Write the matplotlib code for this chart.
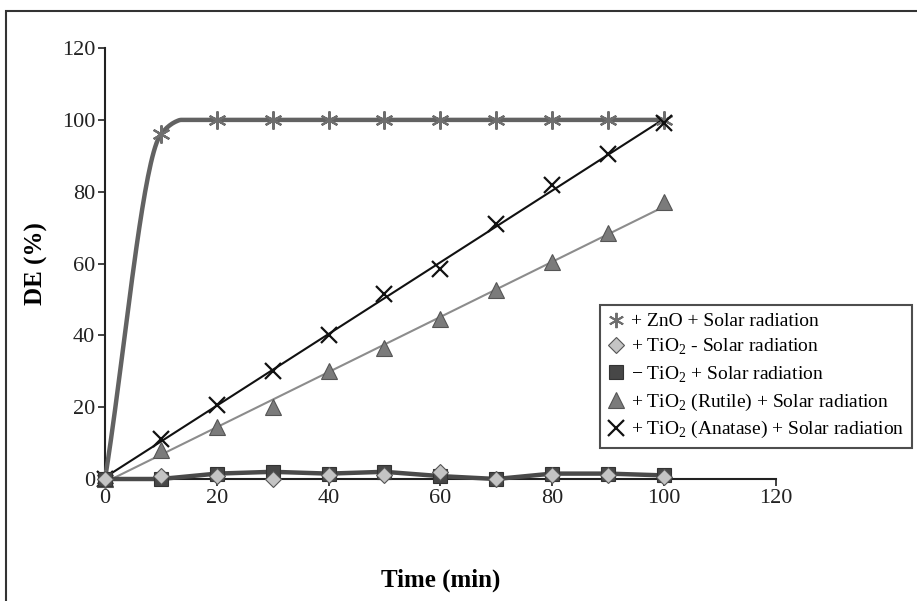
import numpy as np
import matplotlib
matplotlib.use("Agg")
import matplotlib.pyplot as plt
from matplotlib.lines import Line2D
from matplotlib.patches import Rectangle

plt.rcParams['font.family'] = ['Liberation Serif', 'DejaVu Serif']
plt.rcParams['mathtext.fontset'] = 'custom'
plt.rcParams['mathtext.rm'] = 'Liberation Serif'

# data
time = [0, 10, 20, 30, 40, 50, 60, 70, 80, 90, 100]
zno_solar = [0, 96, 100, 100, 100, 100, 100, 100, 100, 100, 100]
tio2_no_solar = [0, 0.8, 0.8, 0, 1.2, 1.0, 2.0, 0, 1.2, 1.2, 0.5]
no_tio2_solar = [0, 0, 1.5, 2.0, 1.5, 2.0, 0.8, 0, 1.5, 1.5, 1.0]
rutile_solar = [0, 8, 14.5, 20, 30, 36.5, 44.5, 52.5, 60.5, 68.5, 77]
anatase_solar = [0, 11, 20.5, 30, 40, 51.5, 58.5, 71, 82, 90.5, 99]

labels = [
    r'+ ZnO + Solar radiation',
    r'+ TiO$_2$ - Solar radiation',
    r'$-$ TiO$_2$ + Solar radiation',
    r'+ TiO$_2$ (Rutile) + Solar radiation',
    r'+ TiO$_2$ (Anatase) + Solar radiation',
]


def smooth(x, y, tension=0.4, n=40):
    # cardinal spline through the points, each piece kept inside its end values
    x = np.asarray(x, float)
    y = np.asarray(y, float)
    m = np.zeros_like(y)
    m[0] = (y[1] - y[0]) / (x[1] - x[0])
    m[-1] = (y[-1] - y[-2]) / (x[-1] - x[-2])
    m[1:-1] = tension * (y[2:] - y[:-2]) / (x[2:] - x[:-2])
    xs_all, ys_all = [], []
    for i in range(len(x) - 1):
        h = x[i + 1] - x[i]
        t = np.linspace(0, 1, n)
        h00 = 2 * t**3 - 3 * t**2 + 1
        h10 = t**3 - 2 * t**2 + t
        h01 = -2 * t**3 + 3 * t**2
        h11 = t**3 - t**2
        ys = h00 * y[i] + h10 * h * m[i] + h01 * y[i + 1] + h11 * h * m[i + 1]
        ys = np.clip(ys, min(y[i], y[i + 1]), max(y[i], y[i + 1]))
        xs_all.append(x[i] + t * h)
        ys_all.append(ys)
    return np.concatenate(xs_all), np.concatenate(ys_all)


fig = plt.figure(figsize=(9.17, 6.01), dpi=100)
ax = fig.add_axes([0.1145, 0.203, 0.7315, 0.717])

asterisk = (6, 2, 0)

# ZnO - smoothed thick gray line
xs, ys = smooth(time, zno_solar)
ax.plot(xs, ys, color='#626262', lw=3.2, zorder=3, solid_capstyle='round')
ax.plot(time, zno_solar, ls='none', marker=asterisk, ms=13, mew=1.6,
        color='#6e6e6e', zorder=4)

# TiO2 (Anatase) - black trend line
p = np.polyfit(time, anatase_solar, 1)
tt = np.array([time[0], time[-1]])
ax.plot(tt, np.polyval(p, tt), color='#111111', lw=1.5, zorder=3)
ax.plot(time, anatase_solar, ls='none', marker='x', ms=12, mew=1.6,
        color='#111111', zorder=4)

# TiO2 (Rutile) - gray trend line
p = np.polyfit(time, rutile_solar, 1)
ax.plot(tt, np.polyval(p, tt), color='#8c8c8c', lw=1.5, zorder=3)
ax.plot(time, rutile_solar, ls='none', marker='^', ms=11, mfc='#7b7b7b',
        mec='#555555', mew=0.8, zorder=4)

# -TiO2 + solar: thick dark line with squares
ax.plot(time, no_tio2_solar, color='#4a4a4a', lw=3.2, marker='s', ms=10,
        mfc='#474747', mec='#333333', mew=0.8, zorder=5)
# +TiO2 - solar: diamonds
ax.plot(time, tio2_no_solar, ls='none', marker='D', ms=8, mfc='#c4c4c4',
        mec='#555555', mew=0.8, zorder=6)

ax.set_xlim(0, 120)
ax.set_ylim(0, 120)
ax.set_xticks(np.arange(0, 121, 20))
ax.set_yticks(np.arange(0, 121, 20))
ax.tick_params(axis='both', direction='out', length=5, width=1.2,
               labelsize=16, colors='#222222', pad=2)
for s in ['top', 'right']:
    ax.spines[s].set_visible(False)
for s in ['left', 'bottom']:
    ax.spines[s].set_linewidth(1.5)
    ax.spines[s].set_color('#222222')
for ln in ax.lines:
    ln.set_clip_on(False)

ax.set_xlabel('Time (min)', fontsize=18, fontweight='bold', labelpad=44)
ax.set_ylabel('DE (%)', fontsize=18, fontweight='bold', labelpad=10)

handles = [
    Line2D([], [], ls='none', marker=asterisk, ms=11, mew=1.4, color='#6e6e6e'),
    Line2D([], [], ls='none', marker='D', ms=8, mfc='#c4c4c4', mec='#555555', mew=0.8),
    Line2D([], [], ls='none', marker='s', ms=10, mfc='#474747', mec='#333333', mew=0.8),
    Line2D([], [], ls='none', marker='^', ms=11, mfc='#7b7b7b', mec='#555555', mew=0.8),
    Line2D([], [], ls='none', marker='x', ms=11, mew=1.6, color='#111111'),
]
leg = fig.legend(handles, labels, loc='upper left',
                 bbox_to_anchor=(600 / 917, 1 - 305 / 601),
                 fontsize=14, frameon=True, fancybox=False,
                 handlelength=0.8, handletextpad=0.4, borderpad=0.4,
                 labelspacing=0.35, borderaxespad=0)
leg.get_frame().set_edgecolor('#222222')
leg.get_frame().set_linewidth(1.5)

# outer frame of the original figure
fig.patches.append(Rectangle((6 / 917, -0.2), 1.2, 1.2 - 11 / 601,
                             transform=fig.transFigure, fill=False,
                             edgecolor='#333333', lw=1.5))

fig.savefig('out.png', dpi=100)
